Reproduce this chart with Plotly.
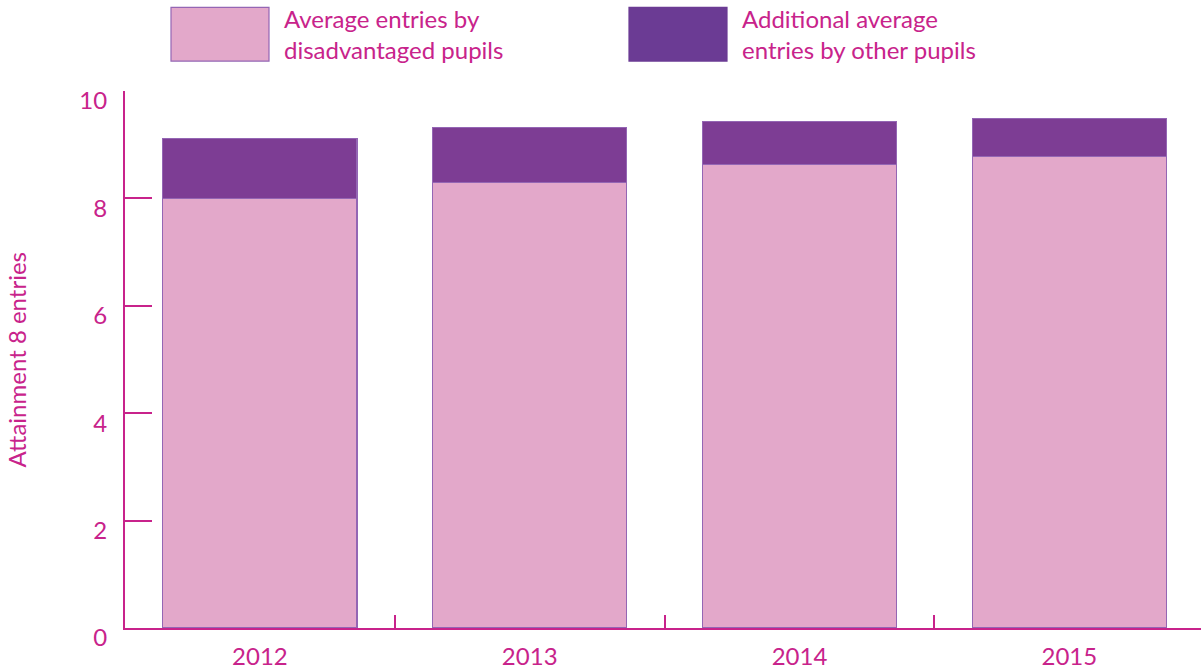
import plotly.graph_objects as go

years = ["2012", "2013", "2014", "2015"]
disadvantaged = [8.0, 8.29, 8.63, 8.78]
total_other = [9.11, 9.32, 9.43, 9.49]
additional = [round(t - d, 2) for t, d in zip(total_other, disadvantaged)]
series_names = ["Average entries by<br>disadvantaged pupils",
                "Additional average<br>entries by other pupils"]
y_ticks = [0, 2, 4, 6, 8, 10]

PINK = "#E3A8CA"
PURPLE = "#7D3D94"
PURPLE_LEG = "#6B3B94"
OUTLINE = "#9466B4"
MAGENTA = "#C8238B"
FONT = "Lato"
FS = 24

W, H = 1201, 670
L, R, T, B = 125, 0, 91, 40
pw, ph = W - L - R, H - T - B

def px_x(x):
    return (x - L) / pw

def px_y(y):
    return (H - B - y) / ph

fig = go.Figure()
fig.add_trace(go.Bar(x=years, y=disadvantaged, name=series_names[0],
                     marker=dict(color=PINK, line=dict(color=OUTLINE, width=1.2)),
                     width=0.72, showlegend=False))
fig.add_trace(go.Bar(x=years, y=additional, name=series_names[1],
                     marker=dict(color=PURPLE, line=dict(color=OUTLINE, width=1.2)),
                     width=0.72, showlegend=False))

# manual legend
boxes = [(171, 269, PINK, OUTLINE), (629, 727, PURPLE_LEG, PURPLE_LEG)]
text_x = [282, 740]
for (x0, x1, fc, lc), tx, name in zip(boxes, text_x, series_names):
    fig.add_shape(type="rect", xref="paper", yref="paper",
                  x0=px_x(x0), x1=px_x(x1), y0=px_y(61), y1=px_y(7),
                  fillcolor=fc, line=dict(color=lc, width=1.2))
    fig.add_annotation(xref="paper", yref="paper", x=px_x(tx), y=px_y(34),
                       xanchor="left", yanchor="middle", align="left",
                       text=name, showarrow=False,
                       font=dict(family=FONT, size=FS, color=MAGENTA))

fig.add_annotation(xref="paper", yref="paper", x=px_x(16), y=0.5,
                   xanchor="center", yanchor="middle", textangle=-90,
                   text="Attainment 8 entries", showarrow=False,
                   font=dict(family=FONT, size=FS, color=MAGENTA))

fig.update_layout(
    width=W, height=H, barmode="stack",
    margin=dict(l=L, r=R, t=T, b=B, pad=0),
    plot_bgcolor="white", paper_bgcolor="white",
    font=dict(family=FONT, size=FS, color=MAGENTA),
    xaxis=dict(range=[-0.5, 3.488], showline=True, linecolor=MAGENTA, linewidth=2,
               ticks="inside", tickson="boundaries", ticklen=13, tickcolor=MAGENTA,
               tickwidth=2, showgrid=False, zeroline=False,
               tickfont=dict(family=FONT, size=FS, color=MAGENTA),
               ticklabelstandoff=6),
    yaxis=dict(range=[0, 10], tickvals=y_ticks, showline=True, linecolor=MAGENTA,
               linewidth=2, ticks="inside", ticklen=27, tickcolor=MAGENTA, tickwidth=2,
               showgrid=False, zeroline=False, ticklabelposition="outside",
               ticklabelshift=10,
               tickfont=dict(family=FONT, size=FS, color=MAGENTA),
               ticklabelstandoff=11),
)

fig.write_html("out.html", config={"displayModeBar": False},
               post_script="document.body.style.margin='0';document.body.style.overflow='hidden';")
